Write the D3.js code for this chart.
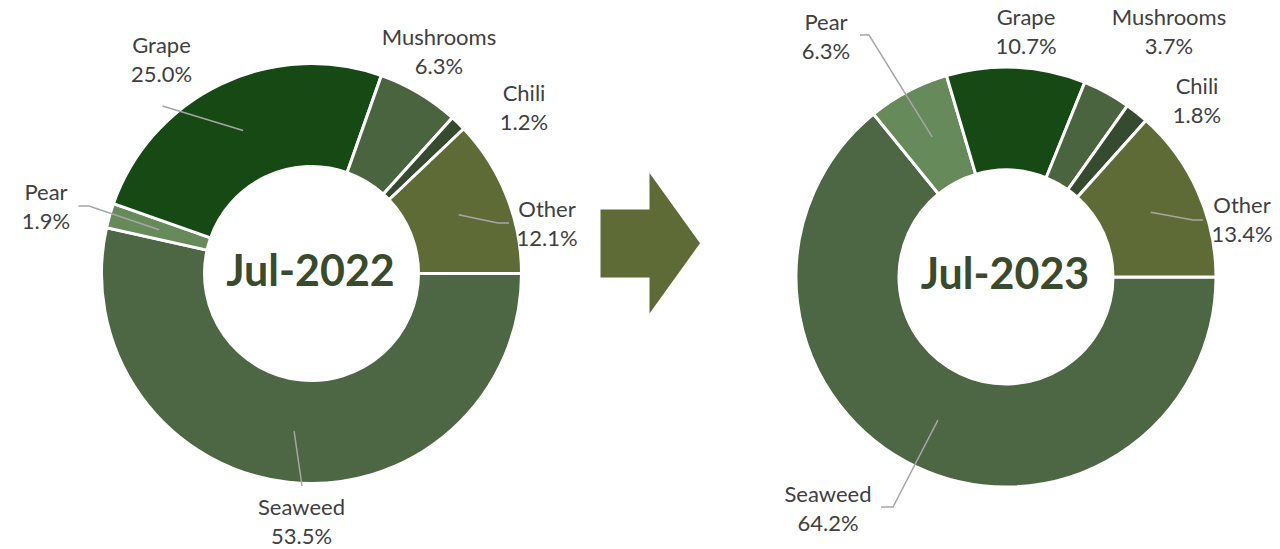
<!DOCTYPE html>
<html>
<head>
<meta charset="utf-8">
<script src="https://cdn.jsdelivr.net/npm/d3@7"></script>
<style>
  html, body { margin: 0; padding: 0; background: #ffffff; }
  svg { display: block; }
</style>
</head>
<body>
<svg id="chart" width="1280" height="549"></svg>
<script>
// ---- data ----
const categories = ["Seaweed", "Pear", "Grape", "Mushrooms", "Chili", "Other"];
const values2022 = [53.5, 1.9, 25.0, 6.3, 1.2, 12.1];
const values2023 = [64.2, 6.3, 10.7, 3.7, 1.8, 13.4];
const periodTitles = ["Jul-2022", "Jul-2023"];

// ---- style ----
const colors = {
  Seaweed: "#4d6643",
  Pear: "#668a5a",
  Grape: "#164914",
  Mushrooms: "#4a6440",
  Chili: "#354a2e",
  Other: "#5f6b37"
};
const labelColor = "#404040";
const leaderColor = "#a6a6a6";
const titleColor = "#394a2d";
const labelFont = "Lato, 'Open Sans', sans-serif";
const labelSize = 22;
const lineGap = 29;

// ---- layout (label positions relative to each donut centre, leader ends relative to label) ----
const layouts = [
  {
    cx: 311.5, cy: 273.5,
    labels: {
      Seaweed:   { off: [-10, 241.5],  line: [[0.5, -29]] },
      Pear:      { off: [-265.5, -73.5], line: [[43, 6], [32.5, 6]] },
      Grape:     { off: [-150, -220.5], line: [[1, 53]] },
      Mushrooms: { off: [127.5, -228.5] },
      Chili:     { off: [212.5, -172.5] },
      Other:     { off: [235.5, -56.5], line: [[-49, 6], [-38, 6]] }
    }
  },
  {
    cx: 1006, cy: 277,
    labels: {
      Seaweed:   { off: [-178, 224.7], line: [[65, 5.3], [53, 5.3]] },
      Pear:      { off: [-180, -247],  line: [[43, 5], [34, 5]] },
      Grape:     { off: [20, -252] },
      Mushrooms: { off: [163, -252] },
      Chili:     { off: [191, -183] },
      Other:     { off: [236, -64], line: [[-49, 7], [-39, 7]] }
    }
  }
];

const outerR = 210, innerR = 107;

const svg = d3.select("#chart");

const pie = d3.pie()
  .sort(null)
  .value(d => d.value)
  .startAngle(Math.PI / 2)
  .endAngle(Math.PI / 2 + 2 * Math.PI);

const arc = d3.arc().innerRadius(innerR).outerRadius(outerR);
const centroidArc = d3.arc().innerRadius(108).outerRadius(209);

const allValues = [values2022, values2023];

allValues.forEach((vals, i) => {
  const L = layouts[i];
  const data = categories.map((c, k) => ({ name: c, value: vals[k] }));
  const arcs = pie(data);
  const g = svg.append("g").attr("transform", `translate(${L.cx},${L.cy})`);

  g.selectAll("path.slice")
    .data(arcs)
    .join("path")
    .attr("class", "slice")
    .attr("d", arc)
    .attr("fill", d => colors[d.data.name])
    .attr("stroke", "#ffffff")
    .attr("stroke-width", 3)
    .attr("stroke-linejoin", "miter");

  // leader lines
  arcs.forEach(a => {
    const spec = L.labels[a.data.name];
    if (!spec.line) return;
    const c = centroidArc.centroid(a);
    const pts = [c].concat(spec.line.map(p => [spec.off[0] + p[0], spec.off[1] + p[1]]));
    g.append("path")
      .attr("d", d3.line()(pts))
      .attr("fill", "none")
      .attr("stroke", leaderColor)
      .attr("stroke-width", 1.5);
  });

  // labels
  arcs.forEach(a => {
    const spec = L.labels[a.data.name];
    const t = g.append("text")
      .attr("x", spec.off[0])
      .attr("y", spec.off[1])
      .attr("text-anchor", "middle")
      .attr("font-family", labelFont)
      .attr("font-size", labelSize)
      .attr("fill", labelColor);
    t.append("tspan").attr("x", spec.off[0]).text(a.data.name);
    t.append("tspan").attr("x", spec.off[0]).attr("dy", lineGap)
      .text(d3.format(".1f")(a.data.value) + "%");
  });

  // centre title
  g.append("text")
    .attr("x", -1)
    .attr("y", 12)
    .attr("text-anchor", "middle")
    .attr("font-family", labelFont)
    .attr("font-weight", 700)
    .attr("font-size", 43)
    .attr("fill", titleColor)
    .text(periodTitles[i]);
});

// arrow between the donuts
const arrowPts = [
  [600.5, 209.5], [649.5, 209.5], [649.5, 173], [700, 243.3],
  [649.5, 313.5], [649.5, 277.5], [600.5, 277.5]
];
svg.append("path")
  .attr("d", d3.line()(arrowPts) + "Z")
  .attr("fill", colors.Other);
</script>
</body>
</html>
